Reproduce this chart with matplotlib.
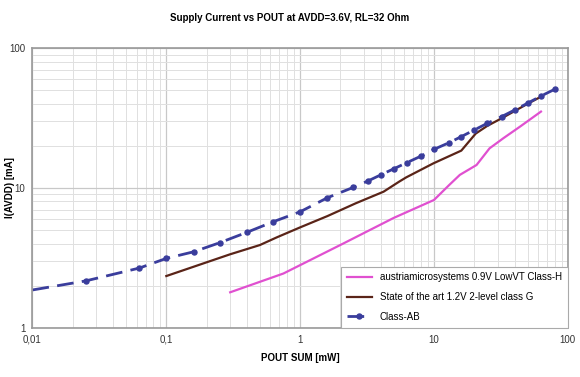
import matplotlib
matplotlib.use("Agg")
import matplotlib.pyplot as plt
from matplotlib.ticker import FixedLocator, FixedFormatter, LogLocator, NullFormatter

plt.rcParams['font.family'] = ['Liberation Sans', 'DejaVu Sans']

# Class-AB
ab_x = [0.01, 0.025, 0.063, 0.1, 0.16, 0.25, 0.4, 0.63, 1.0, 1.6, 2.5, 3.2, 4.0, 5.0,
        6.3, 8.0, 10, 13, 16, 20, 25, 32, 40, 50, 63, 80]
ab_y = [1.86, 2.16, 2.67, 3.13, 3.49, 4.05, 4.81, 5.73, 6.75, 8.51, 10.1, 11.2, 12.4, 13.7,
        15.2, 16.9, 18.9, 21.1, 23.3, 26.0, 29.0, 32.4, 36.1, 40.4, 45.5, 50.9]

# State of the art class G
g_x = [0.1, 0.3, 0.5, 0.67, 1.0, 1.6, 2.6, 4.2, 5.5, 6.2, 9.9, 16.0, 20.5, 25, 32, 40, 50, 63]
g_y = [2.34, 3.35, 3.9, 4.43, 5.22, 6.29, 7.76, 9.4, 11.1, 11.9, 15.0, 18.5, 24.5, 27.8, 31.5, 35.5, 40.0, 45.0]

# austriamicrosystems class H
h_x = [0.3, 0.75, 2.1, 5.0, 10, 13, 15.6, 20.8, 26, 33, 44, 63]
h_y = [1.79, 2.44, 4.0, 6.1, 8.2, 10.5, 12.4, 14.6, 19.2, 22.7, 27.5, 35.2]

x_ticks = [0.01, 0.1, 1, 10, 100]
x_labels = ['0,01', '0,1', '1', '10', '100']
y_ticks = [1, 10, 100]
y_labels = ['1', '10', '100']

fig = plt.figure(figsize=(5.8, 3.77), dpi=100)
ax = fig.add_axes([0.056, 0.131, 0.923, 0.741])

ax.plot(h_x, h_y, color='#e050d0', lw=1.6, label='austriamicrosystems 0.9V LowVT Class-H')
ax.plot(g_x, g_y, color='#5a2418', lw=1.6, label='State of the art 1.2V 2-level class G')
ax.plot(ab_x, ab_y, color='#3a3d9c', lw=2, ls=(0, (6, 3)), marker='o', ms=3.6,
        markevery=list(range(1, len(ab_x))), label='Class-AB')

ax.set_xscale('log')
ax.set_yscale('log')
ax.set_xlim(0.01, 100)
ax.set_ylim(1, 100)
ax.xaxis.set_major_locator(FixedLocator(x_ticks))
ax.xaxis.set_major_formatter(FixedFormatter(x_labels))
ax.yaxis.set_major_locator(FixedLocator(y_ticks))
ax.yaxis.set_major_formatter(FixedFormatter(y_labels))
ax.xaxis.set_minor_locator(LogLocator(base=10, subs=range(2, 10)))
ax.yaxis.set_minor_locator(LogLocator(base=10, subs=range(2, 10)))
ax.xaxis.set_minor_formatter(NullFormatter())
ax.yaxis.set_minor_formatter(NullFormatter())

ax.grid(which='major', color='#c8c8c8', lw=0.9)
ax.grid(which='minor', color='#e0e0e0', lw=0.7)
ax.set_axisbelow(True)
ax.tick_params(which='both', length=0, labelsize=7, colors='#333333', pad=5)
for s in ax.spines.values():
    s.set_color('#999999')
    s.set_linewidth(1.2)

ax.set_xlabel('POUT SUM [mW]', fontsize=7, fontweight='bold', labelpad=6)
ax.set_ylabel('I(AVDD) [mA]', fontsize=7, fontweight='bold')
ax.yaxis.set_label_coords(-0.033, 0.5)
fig.suptitle('Supply Current vs POUT at AVDD=3.6V, RL=32 Ohm', fontsize=7,
             fontweight='bold', y=0.965)

leg = ax.legend(loc='lower right', fontsize=7, frameon=True, fancybox=False,
                edgecolor='#aaaaaa', framealpha=1, handlelength=2.6,
                borderaxespad=0, labelspacing=1.0, borderpad=0.6)
leg.get_frame().set_linewidth(0.8)

fig.savefig('out.png', dpi=100, facecolor='white')
